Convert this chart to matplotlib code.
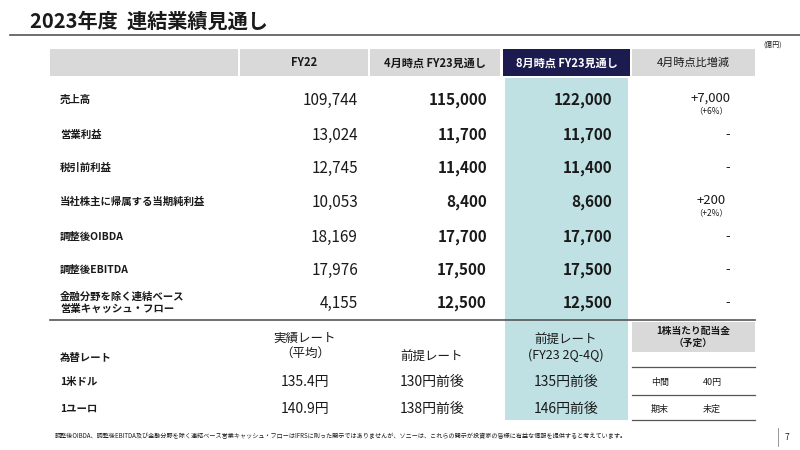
import matplotlib
matplotlib.use("Agg")
import matplotlib.pyplot as plt
from matplotlib.patches import Rectangle

plt.rcParams["font.family"] = ["Noto Sans CJK JP", "DejaVu Sans"]

title = "2023年度  連結業績見通し"
columns = ["FY22", "4月時点 FY23見通し", "8月時点 FY23見通し", "4月時点比増減"]
row_labels = ["売上高", "営業利益", "税引前利益", "当社株主に帰属する当期純利益",
              "調整後OIBDA", "調整後EBITDA", "金融分野を除く連結ベース\n営業キャッシュ・フロー"]
fy22 = [109744, 13024, 12745, 10053, 18169, 17976, 4155]
fy23_apr = [115000, 11700, 11400, 8400, 17700, 17500, 12500]
fy23_aug = [122000, 11700, 11400, 8600, 17700, 17500, 12500]
diff = ["+7,000", "-", "-", "+200", "-", "-", "-"]
diff_pct = ["（+6%）", "", "", "（+2%）", "", "", ""]

fx_headers = ["実績レート\n（平均）", "前提レート", "前提レート\n(FY23 2Q-4Q)"]
fx_labels = ["1米ドル", "1ユーロ"]
fx_actual = ["135.4円", "140.9円"]
fx_prev = ["130円前後", "138円前後"]
fx_new = ["135円前後", "146円前後"]
div_labels = ["中間", "期末"]
div_values = ["40円", "未定"]
footnote = "調整後OIBDA、調整後EBITDA及び金融分野を除く連結ベース営業キャッシュ・フローはIFRSに則った開示ではありませんが、ソニーは、これらの開示が投資家の皆様に有益な情報を提供すると考えています。"

NAVY = "#1c1b4f"; TEAL = "#c0e1e3"; GRAY = "#d9d9d9"; TXT = "#1a1a1a"

fig = plt.figure(figsize=(8, 4.5), dpi=100)
ax = fig.add_axes([0, 0, 1, 1])
ax.set_xlim(0, 800); ax.set_ylim(450, 0); ax.axis("off")

ax.text(30, 21, title, fontsize=14.5, fontweight="bold", va="center", color=TXT)
ax.plot([10, 800], [35, 35], color="#555555", lw=1.2)
ax.text(782, 45, "(億円)", fontsize=5, ha="right", va="center", color=TXT)

ax.add_patch(Rectangle((50, 49), 188, 27, color=GRAY, lw=0))
hx = [(240, 368), (370, 500), (503, 630), (632, 755)]
for i, (a, b) in enumerate(hx):
    ax.add_patch(Rectangle((a, 49), b - a, 27, color=NAVY if i == 2 else GRAY, lw=0))
    ax.text((a + b) / 2, 63, columns[i], ha="center", va="center", fontsize=8,
            color="white" if i == 2 else TXT, fontweight="bold" if i < 3 else "normal")
ax.add_patch(Rectangle((505, 78), 123, 342, color=TEAL, lw=0))

ys = [100, 135, 168, 202, 237, 270, 303]
for k, y in enumerate(ys):
    ax.text(60, y, row_labels[k], ha="left", va="center", fontsize=7.5, fontweight="bold",
            color=TXT, linespacing=1.3)
    ax.text(358, y, f"{fy22[k]:,}", ha="right", va="center", fontsize=11, color=TXT)
    ax.text(487, y, f"{fy23_apr[k]:,}", ha="right", va="center", fontsize=11, fontweight="bold", color=TXT)
    ax.text(612, y, f"{fy23_aug[k]:,}", ha="right", va="center", fontsize=11, fontweight="bold", color=TXT)
    if diff_pct[k]:
        ax.text(711, y - 2, diff[k], ha="center", va="center", fontsize=9.5, color=TXT)
        ax.text(711, y + 11, diff_pct[k], ha="center", va="center", fontsize=6, color=TXT)
    else:
        ax.text(728, y, diff[k], ha="center", va="center", fontsize=9.5, color=TXT)
ax.plot([50, 755], [320, 320], color="#555555", lw=1.2)

fxx = [305, 432, 566]
ax.text(fxx[0], 346, fx_headers[0], ha="center", va="center", fontsize=9, color=TXT, linespacing=1.2)
ax.text(fxx[1], 357, fx_headers[1], ha="center", va="center", fontsize=9, color=TXT)
ax.text(fxx[2], 348, fx_headers[2], ha="center", va="center", fontsize=9, color=TXT, linespacing=1.2)
ax.text(60, 358, "為替レート", ha="left", va="center", fontsize=7.5, fontweight="bold", color=TXT)
for k, y in enumerate([382, 409]):
    ax.text(60, y, fx_labels[k], ha="left", va="center", fontsize=7.5, fontweight="bold", color=TXT)
    ax.text(fxx[0], y, fx_actual[k], ha="center", va="center", fontsize=10, color=TXT)
    ax.text(fxx[1], y, fx_prev[k], ha="center", va="center", fontsize=10, color=TXT)
    ax.text(fxx[2], y, fx_new[k], ha="center", va="center", fontsize=10, color=TXT)
    ax.text(660, y, div_labels[k], ha="center", va="center", fontsize=6.5, color=TXT)
    ax.text(712, y, div_values[k], ha="center", va="center", fontsize=6.5, color=TXT)

ax.add_patch(Rectangle((632, 322), 123, 30, color=GRAY, lw=0))
ax.text(693, 337, "1株当たり配当金\n（予定）", ha="center", va="center", fontsize=7,
        fontweight="bold", color=TXT, linespacing=1.3)
for y in [367, 395, 420]:
    ax.plot([632, 755], [y, y], color="#555555", lw=0.9)

ax.text(55, 436, footnote, ha="left", va="center", fontsize=4.4, color=TXT)
ax.plot([778, 778], [428, 446], color="#888888", lw=0.6)
ax.text(787, 437, "7", ha="center", va="center", fontsize=6, color=TXT)

fig.savefig("out.png", dpi=100)
